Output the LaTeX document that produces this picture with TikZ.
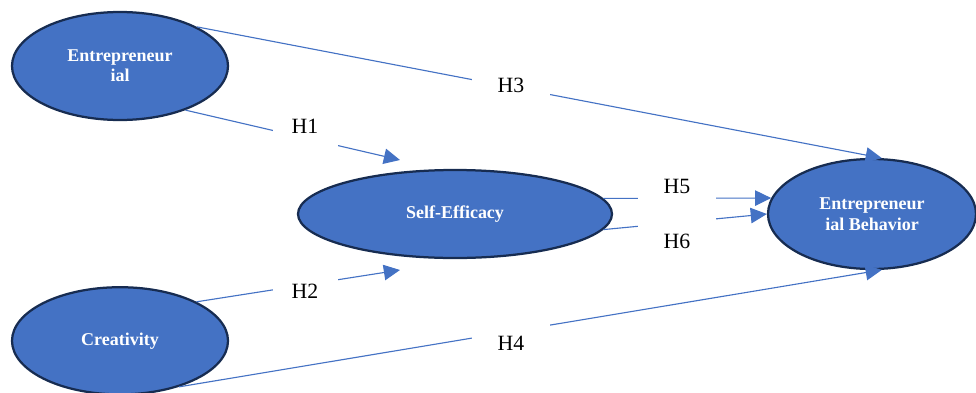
\documentclass[tikz,border=0pt]{standalone}
\usepackage{fontspec}
\setmainfont{Liberation Serif}
\usetikzlibrary{shapes.geometric,arrows.meta}
\definecolor{wordblue}{HTML}{4472C4}
\definecolor{wordnavy}{HTML}{172C51}
\tikzset{
  construct/.style={ellipse,draw=wordnavy,line width=1.6pt,fill=wordblue,text=white,
    font=\bfseries\fontsize{12.8}{14.5}\selectfont,align=center,inner sep=0pt},
  link/.style={draw=wordblue,line width=0.8pt,-{Triangle[length=11.5pt,width=11pt]}},
  hyp/.style={fill=white,inner sep=0pt,minimum height=1.1cm,font=\fontsize{15.5}{18}\selectfont}
}
\begin{document}
\begin{tikzpicture}
    \useasboundingbox (0,0) rectangle (24.4,9.8);
    % constructs
    \node[construct,minimum width=5.4cm,minimum height=2.7cm] (ent) at (3,8.15) {Entrepreneur\\ial};
    \node[construct,minimum width=5.4cm,minimum height=2.68cm] (cre) at (3,1.28) {Creativity};
    \node[construct,minimum width=7.85cm,minimum height=2.2cm] (se) at (11.375,4.45) {Self-Efficacy};
    \node[construct,minimum width=5.2cm,minimum height=2.75cm] (beh) at (21.8,4.45) {Entrepreneur\\ial Behavior};
    \coordinate (t1) at (10,5.8);
    \coordinate (t2) at (10,3.05);
    % paths
    \draw[link] (ent.-34) -- (t1);
    \draw[link] (cre.27) -- (t2);
    \draw[link] (ent.27) -- (beh.80);
    \draw[link] (cre.-38) -- (beh.-80);
    \draw[link] (se.6) -- (beh.171);
    \draw[link] (se.-6.5) -- (beh.180);
    % hypotheses
    \node[hyp,minimum width=1.625cm] (h1) at (7.625,6.65) {H1};
    \node[hyp,minimum width=1.625cm] (h2) at (7.625,2.525) {H2};
    \node[hyp,minimum width=1.95cm] (h3) at (12.775,7.675) {H3};
    \node[hyp,minimum width=1.95cm,minimum height=1.25cm] (h4) at (12.775,1.225) {H4};
    \node[hyp,minimum width=1.95cm] (h5) at (16.925,5.15) {H5};
    \node[hyp,minimum width=1.95cm,minimum height=1.2cm] (h6) at (16.925,3.775) {H6};
\end{tikzpicture}
\end{document}
